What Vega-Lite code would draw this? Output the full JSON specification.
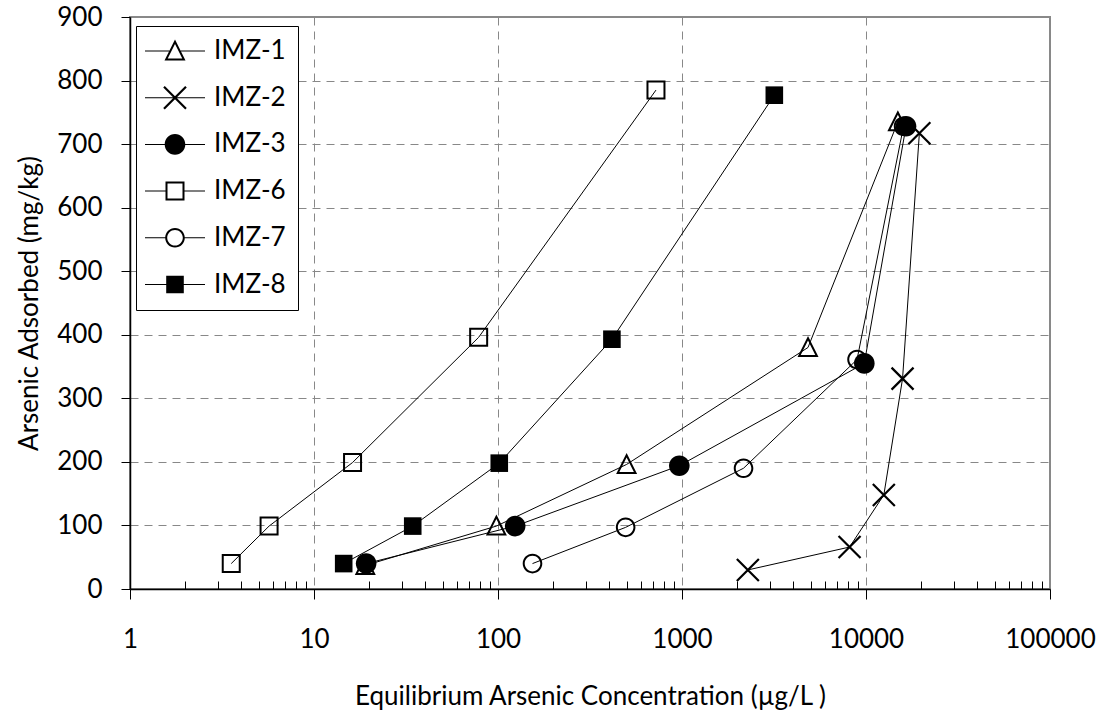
{
  "$schema": "https://vega.github.io/schema/vega-lite/v6.json",
  "width": 920,
  "height": 572,
  "autosize": {"type": "none"},
  "padding": {"left": 130, "top": 17, "right": 59, "bottom": 126},
  "background": "white",
  "config": {
    "view": {"stroke": "#898989", "strokeWidth": 2},
    "font": "Lato"
  },
  "data": {
    "values": [
      {"series": "IMZ-1", "conc": 19, "ads": 37},
      {"series": "IMZ-1", "conc": 98, "ads": 99},
      {"series": "IMZ-1", "conc": 500, "ads": 196},
      {"series": "IMZ-1", "conc": 4840, "ads": 380},
      {"series": "IMZ-1", "conc": 14900, "ads": 735},
      {"series": "IMZ-2", "conc": 2280, "ads": 30},
      {"series": "IMZ-2", "conc": 8140, "ads": 66},
      {"series": "IMZ-2", "conc": 12500, "ads": 148},
      {"series": "IMZ-2", "conc": 15800, "ads": 331},
      {"series": "IMZ-2", "conc": 19500, "ads": 717},
      {"series": "IMZ-3", "conc": 19.2, "ads": 40},
      {"series": "IMZ-3", "conc": 124, "ads": 99},
      {"series": "IMZ-3", "conc": 967, "ads": 194},
      {"series": "IMZ-3", "conc": 9790, "ads": 355},
      {"series": "IMZ-3", "conc": 16500, "ads": 728},
      {"series": "IMZ-6", "conc": 3.55, "ads": 40},
      {"series": "IMZ-6", "conc": 5.7, "ads": 99},
      {"series": "IMZ-6", "conc": 16.2, "ads": 199},
      {"series": "IMZ-6", "conc": 78.5, "ads": 396},
      {"series": "IMZ-6", "conc": 722, "ads": 785},
      {"series": "IMZ-7", "conc": 154, "ads": 40},
      {"series": "IMZ-7", "conc": 494, "ads": 97},
      {"series": "IMZ-7", "conc": 2160, "ads": 190},
      {"series": "IMZ-7", "conc": 8940, "ads": 361},
      {"series": "IMZ-7", "conc": 16000, "ads": 728},
      {"series": "IMZ-8", "conc": 14.5, "ads": 40},
      {"series": "IMZ-8", "conc": 34.4, "ads": 99},
      {"series": "IMZ-8", "conc": 101.6, "ads": 198},
      {"series": "IMZ-8", "conc": 416, "ads": 393},
      {"series": "IMZ-8", "conc": 3175, "ads": 777}
    ]
  },
  "encoding": {
    "x": {
      "field": "conc",
      "type": "quantitative",
      "scale": {"type": "log", "domain": [1, 100000], "nice": false},
      "axis": {
        "values": [1,2,3,4,5,6,7,8,9,10,20,30,40,50,60,70,80,90,100,200,300,400,500,600,700,800,900,1000,2000,3000,4000,5000,6000,7000,8000,9000,10000,20000,30000,40000,50000,60000,70000,80000,90000,100000],
        "format": "d",
        "labelExpr": "indexof([1,10,100,1000,10000,100000], datum.value) >= 0 ? datum.label : ''",
        "tickSize": {"condition": {"test": "indexof([1,10,100,1000,10000,100000], datum.value) >= 0", "value": 10}, "value": -8},
        "gridOpacity": {"condition": {"test": "indexof([1,10,100,1000,10000,100000], datum.value) >= 0", "value": 1}, "value": 0},
        "grid": true,
        "gridColor": "#888888",
        "gridDash": [8, 6],
        "gridWidth": 1,
        "tickColor": "black",
        "tickWidth": 1,
        "domainColor": "black",
        "domainWidth": 1.5,
        "labelFont": "Lato",
        "labelFontSize": 26,
        "labelColor": "black",
        "labelPadding": 27,
        "labelFlush": false,
        "labelOverlap": false,
        "title": "Equilibrium Arsenic Concentration (µg/L )",
        "titleFont": "Lato",
        "titleFontSize": 26,
        "titleFontWeight": "normal",
        "titleColor": "black",
        "titleBaseline": "alphabetic",
        "titleY": 115
      }
    },
    "y": {
      "field": "ads",
      "type": "quantitative",
      "scale": {"domain": [0, 900], "nice": false},
      "axis": {
        "values": [0,100,200,300,400,500,600,700,800,900],
        "grid": true,
        "gridColor": "#888888",
        "gridDash": [8, 6],
        "gridWidth": 1,
        "tickSize": 9,
        "tickColor": "black",
        "domainColor": "black",
        "domainWidth": 1.5,
        "labelFont": "Lato",
        "labelFontSize": 26,
        "labelColor": "black",
        "labelPadding": 19,
        "title": "Arsenic Adsorbed (mg/kg)",
        "titleFont": "Lato",
        "titleFontSize": 26,
        "titleFontWeight": "normal",
        "titleColor": "black",
        "titleBaseline": "alphabetic",
        "titleX": -93,
        "titleY": 286
      }
    }
  },
  "layer": [
    {
      "mark": {"type": "line", "color": "black", "strokeWidth": 1},
      "encoding": {"detail": {"field": "series"}}
    },
    {
      "mark": {"type": "point", "filled": true, "color": "black", "size": 400, "strokeWidth": 0, "opacity": 1},
      "encoding": {
        "shape": {
          "field": "series",
          "scale": {
            "domain": ["IMZ-1", "IMZ-2", "IMZ-3", "IMZ-6", "IMZ-7", "IMZ-8"],
            "range": [
              "M0,-1.15L1.05,0.95L-1.05,0.95Z M0,-0.703L-0.727,0.75L0.727,0.75Z",
              "M-1.022,-1.178L1.178,1.022L1.022,1.178L-1.178,-1.022Z M-1.178,1.022L1.022,-1.178L1.178,-1.022L-1.022,1.178Z",
              "M1.03,0A1.03,1.03,0,1,1,-1.03,0A1.03,1.03,0,1,1,1.03,0Z",
              "M-0.95,-0.95H0.95V0.95H-0.95Z M-0.75,-0.75V0.75H0.75V-0.75Z",
              "M0.98,0A0.98,0.98,0,1,1,-0.98,0A0.98,0.98,0,1,1,0.98,0Z M0.78,0A0.78,0.78,0,1,0,-0.78,0A0.78,0.78,0,1,0,0.78,0Z",
              "M-0.88,-0.88H0.88V0.88H-0.88Z"
            ]
          },
          "legend": null
        }
      }
    },
    {
      "mark": {"type": "point", "filled": true, "color": "black", "size": 400, "strokeWidth": 0, "opacity": 0},
      "encoding": {
        "shape": {
          "field": "series",
          "scale": {
            "domain": ["IMZ-1", "IMZ-2", "IMZ-3", "IMZ-6", "IMZ-7", "IMZ-8"],
            "range": [
              "M0,-1.15L1.05,0.95L-1.05,0.95Z M0,-0.703L-0.727,0.75L0.727,0.75Z M-3,-0.05H-0.575V0.05H-3Z M0.575,-0.05H3V0.05H0.575Z",
              "M-1.022,-1.178L1.178,1.022L1.022,1.178L-1.178,-1.022Z M-1.178,1.022L1.022,-1.178L1.178,-1.022L-1.022,1.178Z M-3,-0.05H3V0.05H-3Z",
              "M1.03,0A1.03,1.03,0,1,1,-1.03,0A1.03,1.03,0,1,1,1.03,0Z M-3,-0.05H-1V0.05H-3Z M1,-0.05H3V0.05H1Z",
              "M-0.95,-0.95H0.95V0.95H-0.95Z M-0.75,-0.75V0.75H0.75V-0.75Z M-3,-0.05H-0.95V0.05H-3Z M0.95,-0.05H3V0.05H0.95Z",
              "M0.98,0A0.98,0.98,0,1,1,-0.98,0A0.98,0.98,0,1,1,0.98,0Z M0.78,0A0.78,0.78,0,1,0,-0.78,0A0.78,0.78,0,1,0,0.78,0Z M-3,-0.05H-0.97V0.05H-3Z M0.97,-0.05H3V0.05H0.97Z",
              "M-0.88,-0.88H0.88V0.88H-0.88Z M-3,-0.05H-0.88V0.05H-3Z M0.88,-0.05H3V0.05H0.88Z"
            ]
          },
          "legend": {
            "orient": "none",
            "legendX": 6,
            "legendY": 9,
            "title": null,
            "padding": 12,
            "strokeColor": "black",
            "fillColor": "white",
            "labelFont": "Lato",
            "labelFontSize": 26,
            "labelColor": "black",
            "symbolSize": 400,
            "symbolFillColor": "black",
            "symbolStrokeWidth": 0,
            "symbolOpacity": 1,
            "symbolOffset": 14,
            "labelOffset": 26,
            "rowPadding": 20.7,
            "encode": {"symbols": {"update": {"opacity": {"value": 1}}}}
          }
        }
      }
    }
  ],
  "resolve": {"scale": {"shape": "independent"}}
}
